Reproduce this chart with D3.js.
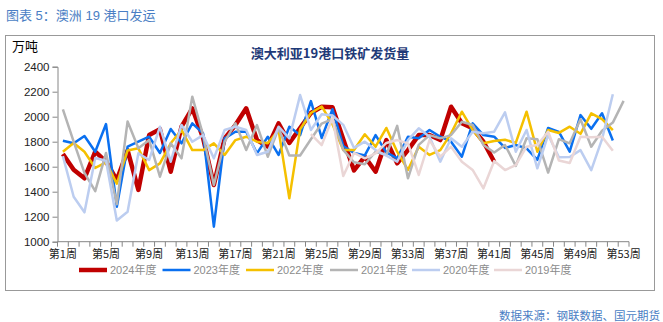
<!DOCTYPE html>
<html><head><meta charset="utf-8">
<script src="https://cdn.jsdelivr.net/npm/d3@7"></script>
<style>
html,body{margin:0;padding:0;background:#fff;}
svg{display:block;}
</style></head>
<body>
<svg id="c" width="663" height="322"></svg>
<script>
const weeks = d3.range(1, 54).map(i => "第" + i + "周");
const yTicks = [1000, 1200, 1400, 1600, 1800, 2000, 2200, 2400];
const seriesNames = ["2024年度", "2023年度", "2022年度", "2021年度", "2020年度", "2019年度"];
const seriesColors = ["#c00000", "#0a70f0", "#f5c000", "#b4b4b4", "#bccdf0", "#ead6d6"];

const s2024 = [1702,1575,1507,1720,1640,1494,1730,1414,1853,1900,1560,1920,2067,1830,1454,1827,1933,2067,1813,1760,1947,1790,1910,2030,2080,2075,1820,1570,1680,1560,1813,1627,1733,1853,1853,1813,2080,1947,1907,1800,1640];
const s2023 = [1808,1787,1846,1720,1941,1280,1760,1800,1840,1710,1902,1787,1947,1867,1120,1827,1880,1880,1707,1840,1694,1920,1853,2125,1830,2060,1765,1710,1690,1853,1715,1667,1840,1827,1894,1840,1800,1680,1947,1853,1840,1750,1774,1747,1654,1910,1878,1720,2013,1903,2027,1810];
const s2022 = [1720,1790,1720,1590,1635,1465,1730,1747,1573,1627,1787,1894,1733,1733,1787,1694,1813,1840,1800,1787,1894,1347,1900,2030,2082,1940,1733,1733,1860,1760,1910,1720,1574,1760,1694,1733,1867,2040,1894,1787,1805,1816,1790,2040,1720,1894,1870,1920,1863,2027,1980,1893];
const s2021 = [2059,1800,1550,1405,1710,1300,1962,1747,1813,1520,1787,1667,2160,1853,1454,1800,1947,1733,1933,1680,1907,1690,1690,1820,1945,1980,1735,1635,1620,1720,1694,1927,1507,1774,1853,1827,1853,1960,1934,1774,1714,1774,1607,1827,1820,1553,1820,1787,1980,1760,1887,1953,2127];
const s2020 = [1685,1360,1235,1670,1648,1170,1240,1707,1654,1920,1640,1934,1800,1853,1667,1894,1920,1894,1694,1720,1920,1827,2173,1894,2020,2010,1935,1750,1800,1733,1688,1640,1813,1907,1840,1640,1827,1760,1880,1867,1880,2035,1720,1894,1587,1855,1675,1678,1733,1573,1820,2180];
const s2019 = [null,null,null,null,null,null,null,null,null,null,null,null,null,null,null,null,null,null,null,null,null,null,null,1860,1773,1990,1525,1710,1667,1707,1790,1813,1787,1534,1813,1680,1760,1640,1574,1427,1645,1573,1613,1760,1773,1880,1650,1630,1840,1835,1840,1728];
const seriesData = [s2024, s2023, s2022, s2021, s2020, s2019];
const seriesWidths = [4.5, 2.5, 2.5, 2.5, 2.5, 2.5];

const svg = d3.select("#c");
const FONT = "'Liberation Sans','Noto Sans CJK SC',sans-serif";

// page title
svg.append("text").attr("x", 6).attr("y", 20)
  .attr("font-family", FONT).attr("font-size", 13).attr("fill", "#4a7ec4")
  .text("图表 5：澳洲 19 港口发运");

// frame
svg.append("rect").attr("x", 5.5).attr("y", 35.5).attr("width", 649).attr("height", 255)
  .attr("fill", "none").attr("stroke", "#999").attr("stroke-width", 1);

svg.append("text").attr("x", 12).attr("y", 51)
  .attr("font-family", FONT).attr("font-size", 13).attr("fill", "#000").text("万吨");

svg.append("text").attr("x", 330).attr("y", 58).attr("text-anchor", "middle")
  .attr("font-family", "'Noto Sans CJK SC',serif").attr("font-size", 13).attr("font-weight", "bold")
  .attr("fill", "#1f3a78").text("澳大利亚19港口铁矿发货量");

const x = d3.scaleBand().domain(weeks).range([57.5, 629]).padding(0);
const y = d3.scaleLinear().domain([1000, 2400]).range([241.7, 66.7]);
const cx = i => x(weeks[i]) + x.bandwidth() / 2;

// y axis
const yAxis = svg.append("g").attr("transform", "translate(57.5,0)")
  .call(d3.axisLeft(y).tickValues(yTicks).tickSize(5).tickPadding(3).tickFormat(d3.format("d")));
yAxis.select(".domain").attr("stroke", "#868686");
yAxis.selectAll(".tick line").attr("stroke", "#868686");
yAxis.selectAll("text").attr("font-family", FONT).attr("font-size", 11.5).attr("fill", "#222");

// x axis
const xAxis = svg.append("g").attr("transform", "translate(0,241.7)")
  .call(d3.axisBottom(x).tickSize(0).tickPadding(10)
    .tickValues(weeks.filter((d, i) => i % 4 === 0)));
xAxis.select(".domain").attr("stroke", "#868686").attr("d", "M57.5,0H629");
xAxis.selectAll("text").attr("font-family", "'Noto Sans CJK SC',sans-serif").attr("font-size", 11).attr("fill", "#222").attr("dy", "0.6em");
// band boundary tick marks
xAxis.selectAll(".btick").data(d3.range(0, 54)).enter().append("line")
  .attr("class", "btick")
  .attr("x1", i => i < 53 ? x(weeks[i]) : x(weeks[52]) + x.bandwidth())
  .attr("x2", i => i < 53 ? x(weeks[i]) : x(weeks[52]) + x.bandwidth())
  .attr("y1", 0).attr("y2", 5).attr("stroke", "#868686");

// lines
const line = d3.line().defined(d => d.v != null).x(d => cx(d.i)).y(d => y(d.v));
seriesData.forEach((arr, k) => {
  svg.append("path")
    .datum(arr.map((v, i) => ({ i, v })))
    .attr("fill", "none")
    .attr("stroke", seriesColors[k])
    .attr("stroke-width", seriesWidths[k])
    .attr("stroke-linejoin", "round")
    .attr("d", line);
});

// legend
const legX = [79, 162.5, 246, 330, 412, 494];
const leg = svg.append("g");
seriesNames.forEach((n, k) => {
  leg.append("line").attr("x1", legX[k]).attr("x2", legX[k] + 28)
    .attr("y1", 270).attr("y2", 270)
    .attr("stroke", seriesColors[k]).attr("stroke-width", seriesWidths[k]);
  leg.append("text").attr("x", legX[k] + 31).attr("y", 274)
    .attr("font-family", FONT).attr("font-size", 11).attr("fill", "#8c8c8c").text(n);
});

// source
svg.append("text").attr("x", 660).attr("y", 320).attr("text-anchor", "end")
  .attr("font-family", FONT).attr("font-size", 11.5).attr("fill", "#4a7ec4")
  .text("数据来源：钢联数据、国元期货");
</script>
</body></html>
